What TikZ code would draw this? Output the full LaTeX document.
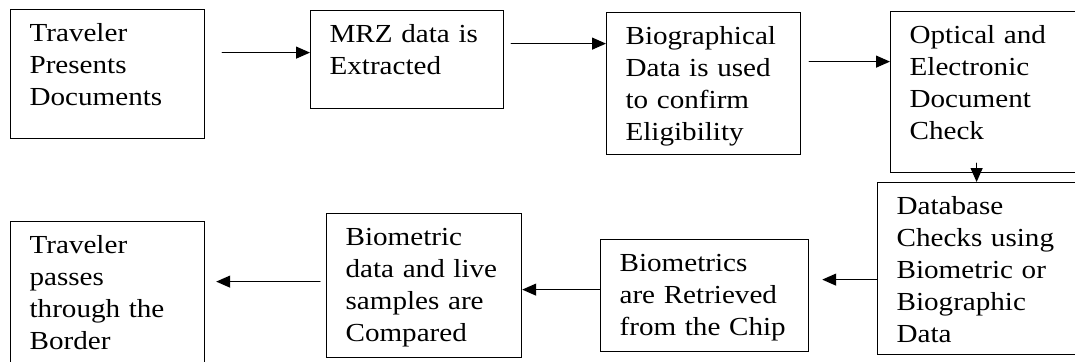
\documentclass[tikz,border=0pt]{standalone}
\usepackage{fontspec}
\setmainfont{Liberation Serif}[FakeStretch=1.12]
\usetikzlibrary{arrows.meta}

\begin{document}
\begin{tikzpicture}[x=0.5pt,y=-0.5pt,line width=0.6pt,>={Triangle[length=7pt,width=6pt]},
    stage/.style={draw,anchor=north west,align=left,inner xsep=9.5pt,inner ysep=0pt,
      text height=16pt,font=\fontsize{13}{16}\selectfont}]
      \useasboundingbox (0,0) rectangle (1075,361);
      \clip (0,0) rectangle (1075,361);

      \node [stage,text width=78pt,text depth=48.5pt] (1) at (10,9) {Traveler\\Presents\\Documents};
      \node [stage,text width=77.5pt,text depth=33pt] (2) at (310,10) {MRZ data is\\Extracted};
      \node [stage,text width=78pt,text depth=55pt] (3) at (606,12) {Biographical\\Data is used\\to confirm\\Eligibility};
      \node [stage,text width=81pt,text depth=64.5pt] (4) at (890,11) {Optical and\\Electronic\\Document\\Check};
      \node [stage,text width=89pt,text depth=70pt] (5) at (877,182)
        {Database\\\makebox[80pt][s]{Checks using}\\\makebox[80pt][s]{Biometric or}\\Biographic\\Data};
      \node [stage,text width=85pt,text depth=40pt] (6) at (600,239) {Biometrics\\are Retrieved\\from the Chip};
      \node [stage,text width=78.5pt,text depth=56pt] (7) at (326,213) {Biometric\\data and live\\samples are\\Compared};
      \node [stage,text width=78pt,text depth=59pt] (8) at (10,221) {Traveler\\passes\\through the\\Border};

      \draw[->,line cap=round] ([xshift=8.5pt,yshift=10.75pt]1.east) -- ([yshift=3.5pt]2.west);
      \draw[->,line cap=round] ([xshift=3.5pt,yshift=8pt]2.east) -- ([yshift=20pt]3.west);
      \draw[->,line cap=round] ([xshift=4pt,yshift=11pt]3.east) -- ([yshift=15.25pt]4.west);
      \draw[->,line cap=round] ([xshift=-7pt,yshift=5pt]4.south) -- ([xshift=-4.5pt]5.north);
      \draw[->,line cap=round] ([yshift=-5.5pt]5.west) -- ([xshift=6.5pt,yshift=8pt]6.east);
      \draw[->,line cap=round] ([yshift=3pt]6.west) -- ([yshift=-2pt]7.east);
      \draw[->,line cap=round] ([xshift=-3pt,yshift=2pt]7.west) -- ([xshift=5.5pt,yshift=7.5pt]8.east);
\end{tikzpicture}
\end{document}
